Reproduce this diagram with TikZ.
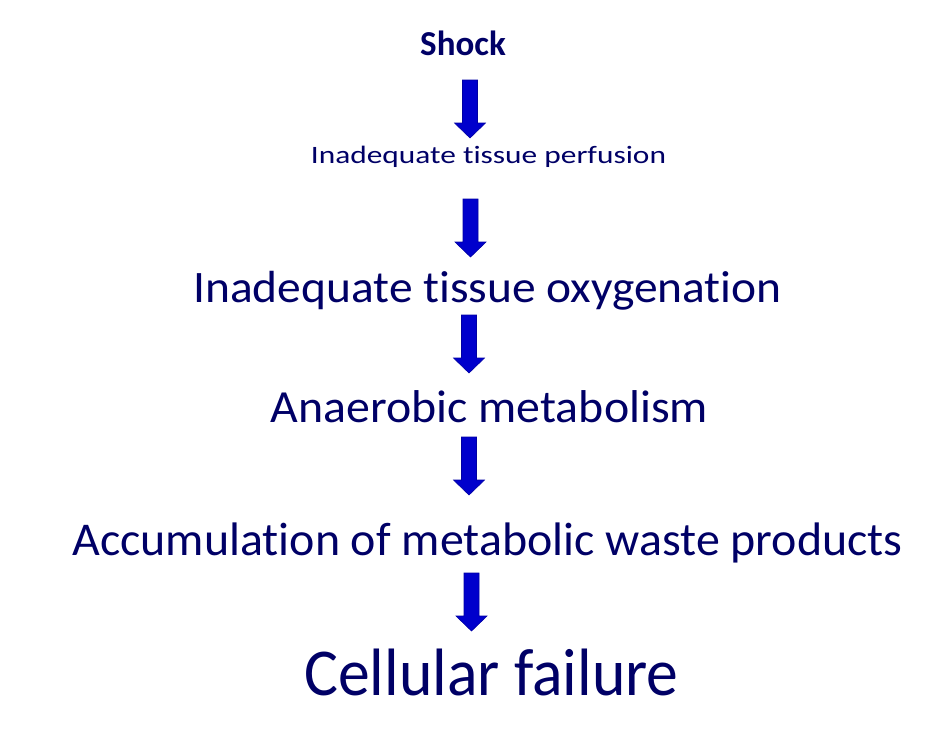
\documentclass[tikz,border=0pt]{standalone}
\usepackage{fontspec}
\setmainfont{Carlito}[Ligatures=NoCommon]
\usetikzlibrary{arrows.meta}
\usetikzlibrary{positioning}
\definecolor{stepnavy}{RGB}{0,0,102}
\definecolor{arrowblue}{RGB}{0,0,204}
\tikzset{
	steptext/.style={text=stepnavy, inner sep=0pt, anchor=base},
	blockarrow/.style={draw=arrowblue!80!black, line width=0.6pt, fill=arrowblue}
}
\newcommand{\stepsize}[2]{\addfontfeatures{FakeStretch=#2}\fontsize{#1}{#1}\selectfont}
\newcommand{\blockdown}[1]{\draw[blockarrow] (#1) ++(-7.5,0) -- ++(15,0) -- ++(0,43) -- ++(8,0) -- ++(-15.5,15) -- ++(-15.5,-15) -- ++(8,0) -- cycle;}

\begin{document}
\begin{tikzpicture}[x=1pt,y=-1pt]
					\useasboundingbox (0,0) rectangle (952,737);

					\node[steptext, font=\bfseries\fontsize{35}{40}\selectfont] (shock) at (463,55) {Shock};
					\node[steptext, font=\stepsize{25}{1.255}] (perfusion) at (488.5,163) {Inadequate tissue perfusion};
					\node[steptext, font=\stepsize{45}{1.055}] (oxygenation) at (487.5,302) {Inadequate tissue oxygenation};
					\node[steptext, font=\stepsize{46}{1.04}] (anaerobic) at (489.5,422) {Anaerobic metabolism};
					\node[steptext, font=\stepsize{47}{1.02}] (accumulation) at (487.5,555) {Accumulation of metabolic waste products};
					\node[steptext, font=\stepsize{67}{0.95}] (failure) at (491.5,695) {Cellular failure};

					\coordinate (a1) at (470,80);
					\coordinate (a2) at (470.5,199);
					\coordinate (a3) at (469,315);
					\coordinate (a4) at (469,437);
					\coordinate (a5) at (471.5,573);

					\blockdown{a1}
					\blockdown{a2}
					\blockdown{a3}
					\blockdown{a4}
					\blockdown{a5}

				\end{tikzpicture}
\end{document}
